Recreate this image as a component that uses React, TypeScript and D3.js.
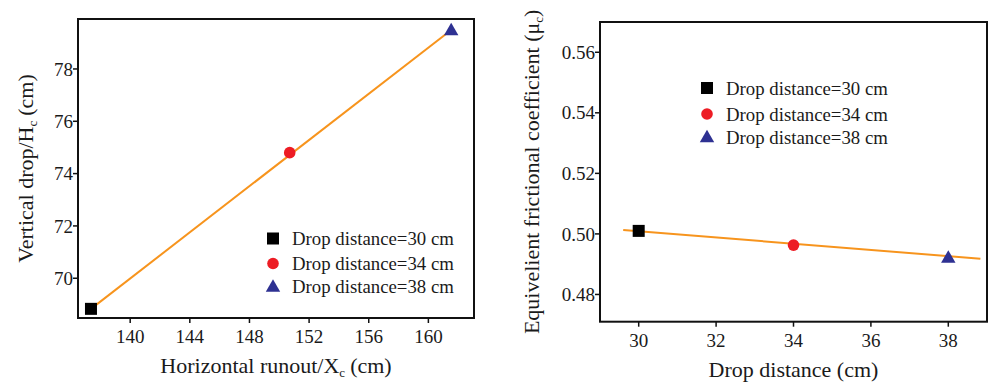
import React from 'react';
import * as d3 from 'd3';

// left panel: vertical drop vs horizontal runout
const runoutX = [137.37, 150.7, 161.53];
const dropH = [68.83, 74.8, 79.49];
const runoutTicks = [140, 144, 148, 152, 156, 160];
const dropTicks = [70, 72, 74, 76, 78];

// right panel: equivalent friction vs drop distance
const dropDist = [30, 34, 38];
const frictionMu = [0.501, 0.4963, 0.4922];
const fitX = [29.6, 38.83];
const fitMu = [0.5013, 0.4918];
const distTicks = [30, 32, 34, 36, 38];
const muTicks = [0.48, 0.5, 0.52, 0.54, 0.56];

const legendLabels = ['Drop distance=30 cm', 'Drop distance=34 cm', 'Drop distance=38 cm'];
const markerColors = ['#000000', '#ed1c24', '#2e3192'];
const lineColor = '#f7941d';
const font = 'Liberation Serif, Times New Roman, DejaVu Serif, serif';

const Marker = ({ i, x, y }) => {
    if (i === 0) return <rect x={x - 6} y={y - 6} width={12} height={12} fill={markerColors[0]} />;
    if (i === 1) return <circle cx={x} cy={y} r={5.8} fill={markerColors[1]} />;
    const tri = d3.symbol().type(d3.symbolTriangle).size(90)();
    return <path d={tri} transform={`translate(${x},${y + 1})`} fill={markerColors[2]} />;
};

const Panel = ({ box, xDomain, yDomain, xTicks, yTicks, yFormat, xs, ys, lx, ly, legend, xTitle, yTitle, yTitleX }) => {
    const x = d3.scaleLinear().domain(xDomain).range([box.left, box.right]);
    const y = d3.scaleLinear().domain(yDomain).range([box.bottom, box.top]);
    const line = d3.line().x(d => x(d[0])).y(d => y(d[1]));
    const fit = lx.map((v, i) => [v, ly[i]]);
    return (
        <g style={{ fontFamily: font }} fill="#1a1a1a">
            <path d={line(fit)} stroke={lineColor} strokeWidth={2} fill="none" />
            {xs.map((v, i) => <Marker key={i} i={i} x={x(v)} y={y(ys[i])} />)}
            <rect x={box.left} y={box.top} width={box.right - box.left} height={box.bottom - box.top}
                fill="none" stroke="#111" strokeWidth={2} />
            {xTicks.map(t => (
                <g key={t}>
                    <line x1={x(t)} x2={x(t)} y1={box.bottom} y2={box.bottom + 5} stroke="#111" strokeWidth={1.5} />
                    <text x={x(t)} y={box.bottom + 25} textAnchor="middle" fontSize={19}>{t}</text>
                </g>
            ))}
            {yTicks.map(t => (
                <g key={t}>
                    <line x1={box.left - 5} x2={box.left} y1={y(t)} y2={y(t)} stroke="#111" strokeWidth={1.5} />
                    <text x={box.left - 5} y={y(t)} dy="0.35em" textAnchor="end" fontSize={19}>{yFormat(t)}</text>
                </g>
            ))}
            {legendLabels.map((lab, i) => (
                <g key={lab}>
                    <Marker i={i} x={legend.x} y={legend.ys[i]} />
                    <text x={legend.x + 19} y={legend.ys[i]} dy="0.35em" fontSize={18.8}>{lab}</text>
                </g>
            ))}
            <text x={(box.left + box.right) / 2} y={box.bottom + 55} textAnchor="middle" fontSize={22}>{xTitle}</text>
            <text transform={`translate(${yTitleX},${(box.top + box.bottom) / 2}) rotate(-90)`} textAnchor="middle" fontSize={22}>{yTitle}</text>
        </g>
    );
};

const Sub = ({ c }) => <tspan baselineShift="-30%" fontSize={13}>{c}</tspan>;

export default function App() {
    return (
        <svg width={989} height={385} style={{ position: 'absolute', left: 0, top: 0, background: '#fff' }}>
            <Panel
                box={{ left: 78, right: 474, top: 19, bottom: 318 }}
                xDomain={[136.5, 163.06]} yDomain={[68.48, 79.91]}
                xTicks={runoutTicks} yTicks={dropTicks} yFormat={d3.format('d')}
                xs={runoutX} ys={dropH} lx={[runoutX[0], runoutX[2]]} ly={[dropH[0], dropH[2]]}
                legend={{ x: 273, ys: [238.5, 263.5, 286.5] }}
                xTitle={<>Horizontal runout/X<Sub c="c" /><tspan dx="5">(cm)</tspan></>}
                yTitle={<>Vertical drop/H<Sub c="c" /><tspan dx="5">(cm)</tspan></>}
                yTitleX={33}
            />
            <Panel
                box={{ left: 600, right: 987, top: 22, bottom: 321.7 }}
                xDomain={[29, 39]} yDomain={[0.471, 0.57]}
                xTicks={distTicks} yTicks={muTicks} yFormat={d3.format('.2f')}
                xs={dropDist} ys={frictionMu} lx={fitX} ly={fitMu}
                legend={{ x: 707, ys: [88, 114, 137] }}
                xTitle="Drop distance (cm)"
                yTitle={<>Equivelient frictional coefficient (μ<Sub c="c" />)</>}
                yTitleX={539}
            />
        </svg>
    );
}
